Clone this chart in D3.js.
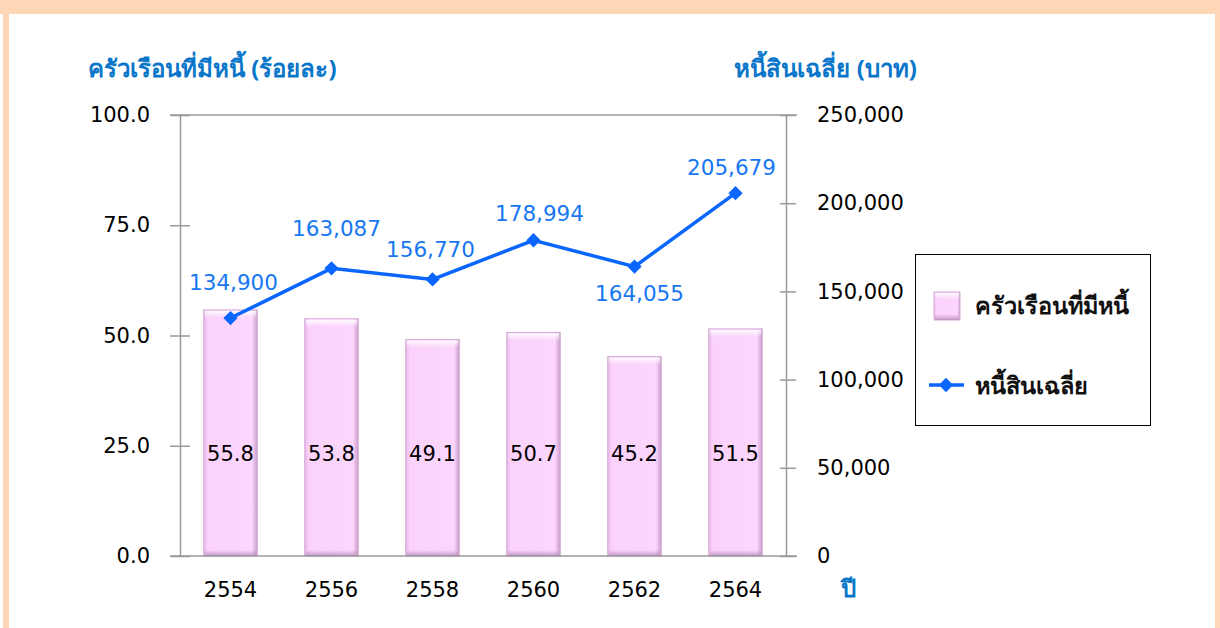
<!DOCTYPE html>
<meta charset="utf-8">
<script src="https://d3js.org/d3.v7.min.js"></script>
<style>
    body { margin: 0; background: #fff; }
    .num { font-family: "DejaVu Sans", Verdana, sans-serif; font-size: 21px; fill: #000; }
    .thai { font-family: Tahoma, "Leelawadee UI", "Noto Sans", "DejaVu Sans", sans-serif; }
    .axis_title { font-size: 24px; font-weight: bold; fill: #0a76c9; }
    .line_label { font-family: "DejaVu Sans", Verdana, sans-serif; font-size: 21.5px; fill: #1777f2; }
    .debt_line { fill: none; stroke: #0a66ff; stroke-width: 3.5; }
</style>
<div id="chart"></div>
<script>
// data
const years = ["2554", "2556", "2558", "2560", "2562", "2564"];
const householdPct = [55.8, 53.8, 49.1, 50.7, 45.2, 51.5];
const avgDebt = [134900, 163087, 156770, 178994, 164055, 205679];
const leftTicks = [0, 25, 50, 75, 100];
const rightTicks = [0, 50000, 100000, 150000, 200000, 250000];

const W = 1220, H = 628;
const plot = {left: 180, right: 786, top: 115, bottom: 556};

const svg = d3.select("#chart").append("svg")
    .attr("width", W).attr("height", H);

// peach frame
svg.append("rect").attr("x", 0).attr("y", 0).attr("width", W).attr("height", 14).attr("fill", "#fdd7b6");
svg.append("rect").attr("x", 3).attr("y", 0).attr("width", 6).attr("height", H).attr("fill", "#fdd7b6");
svg.append("rect").attr("x", 1215).attr("y", 0).attr("width", 5).attr("height", H).attr("fill", "#fdd7b6");

const x = d3.scaleBand().domain(years).range([plot.left, plot.right]).paddingInner(0.47).paddingOuter(0.235);
const xc = d => x(d) + x.bandwidth() / 2;
const yL = d3.scaleLinear().domain([0, 100]).range([plot.bottom, plot.top]);
const yR = d3.scaleLinear().domain([0, 250000]).range([plot.bottom, plot.top]);

// gradients for the bevelled bars
const defs = svg.append("defs");
const g1 = defs.append("linearGradient").attr("id", "barH").attr("x1", 0).attr("x2", 1).attr("y1", 0).attr("y2", 0);
g1.append("stop").attr("offset", "0%").attr("stop-color", "#e9b9ea");
g1.append("stop").attr("offset", "8%").attr("stop-color", "#fad2fb");
g1.append("stop").attr("offset", "90%").attr("stop-color", "#fcd6fd");
g1.append("stop").attr("offset", "100%").attr("stop-color", "#c99bcb");
const g2 = defs.append("linearGradient").attr("id", "barTop").attr("x1", 0).attr("x2", 0).attr("y1", 0).attr("y2", 1);
g2.append("stop").attr("offset", "0%").attr("stop-color", "#fff").attr("stop-opacity", 0.9);
g2.append("stop").attr("offset", "100%").attr("stop-color", "#fff").attr("stop-opacity", 0);
const g3 = defs.append("linearGradient").attr("id", "barBot").attr("x1", 0).attr("x2", 0).attr("y1", 0).attr("y2", 1);
g3.append("stop").attr("offset", "0%").attr("stop-color", "#b88ab9").attr("stop-opacity", 0);
g3.append("stop").attr("offset", "100%").attr("stop-color", "#b88ab9").attr("stop-opacity", 0.8);

// plot frame lines (top border + axes)
const axisCol = "#9a9a9a";
svg.append("line").attr("x1", 170).attr("x2", 797).attr("y1", plot.top).attr("y2", plot.top).attr("stroke", axisCol).attr("stroke-width", 1.5);

// left axis
const axL = svg.append("g").attr("transform", `translate(${plot.left},0)`)
    .call(d3.axisLeft(yL).tickValues(leftTicks).tickFormat(d3.format(".1f")).tickSizeInner(10).tickSizeOuter(0).tickPadding(20));
axL.select(".domain").attr("stroke", axisCol).attr("stroke-width", 1.5);
axL.selectAll(".tick line").attr("stroke", axisCol).attr("stroke-width", 1.5).attr("x2", 10).attr("x1", -10);
axL.selectAll(".tick text").attr("class", "num").attr("x", -30);

// right axis
const axR = svg.append("g").attr("transform", `translate(${plot.right},0)`)
    .call(d3.axisRight(yR).tickValues(rightTicks).tickFormat(d3.format(",")).tickSizeInner(10).tickSizeOuter(0));
axR.select(".domain").attr("stroke", axisCol).attr("stroke-width", 1.5);
axR.selectAll(".tick line").attr("stroke", axisCol).attr("stroke-width", 1.5).attr("x1", -6).attr("x2", 10);
axR.selectAll(".tick text").attr("class", "num").attr("x", 31).attr("text-anchor", "start");

// bars
const bars = svg.append("g").selectAll("g").data(years).join("g");
bars.append("rect")
    .attr("x", d => x(d)).attr("width", x.bandwidth())
    .attr("y", (d, i) => yL(householdPct[i])).attr("height", (d, i) => plot.bottom - yL(householdPct[i]))
    .attr("fill", "url(#barH)").attr("stroke", "#d6aad7").attr("stroke-width", 1);
bars.append("rect")
    .attr("x", d => x(d) + 1).attr("width", x.bandwidth() - 2)
    .attr("y", (d, i) => yL(householdPct[i]) + 1).attr("height", 7)
    .attr("fill", "url(#barTop)");
bars.append("rect")
    .attr("x", d => x(d) + 1).attr("width", x.bandwidth() - 2)
    .attr("y", plot.bottom - 6).attr("height", 6)
    .attr("fill", "url(#barBot)");
bars.append("text").attr("class", "num")
    .attr("x", d => xc(d)).attr("y", yL(21.5)).attr("text-anchor", "middle")
    .text((d, i) => householdPct[i].toFixed(1));

// bottom axis
const axB = svg.append("g").attr("transform", `translate(0,${plot.bottom})`)
    .call(d3.axisBottom(x).tickSize(0).tickPadding(26));
axB.select(".domain").attr("d", "M170,0H797").attr("stroke", axisCol).attr("stroke-width", 1.5);
axB.selectAll(".tick text").attr("class", "num");

// debt line
const line = d3.line().x((d, i) => xc(years[i])).y(d => yR(d));
svg.append("path").datum(avgDebt).attr("class", "debt_line").attr("d", line);
const diamond = d3.symbol().type(d3.symbolDiamond2).size(130);
svg.append("g").selectAll("path").data(avgDebt).join("path")
    .attr("d", diamond)
    .attr("transform", (d, i) => `translate(${xc(years[i])},${yR(d)})`)
    .attr("fill", "#0a66ff");

// label offsets from each point (dx, dy)
const labelOff = [[3, -28], [5, -32], [-2, -22], [6, -19], [5, 34], [-4, -18]];
svg.append("g").selectAll("text").data(avgDebt).join("text")
    .attr("class", "line_label").attr("text-anchor", "middle")
    .attr("x", (d, i) => xc(years[i]) + labelOff[i][0])
    .attr("y", (d, i) => yR(d) + labelOff[i][1])
    .text(d => d3.format(",")(d));

// axis titles
svg.append("text").attr("class", "thai axis_title").attr("x", 88).attr("y", 77).text("ครัวเรือนที่มีหนี้ (ร้อยละ)");
svg.append("text").attr("class", "thai axis_title").attr("x", 917).attr("y", 77).attr("text-anchor", "end").text("หนี้สินเฉลี่ย (บาท)");
svg.append("text").attr("class", "thai axis_title").attr("x", 841).attr("y", 597).text("ปี");

// legend
const lg = svg.append("g");
lg.append("rect").attr("x", 915.5).attr("y", 254.5).attr("width", 235).attr("height", 171)
    .attr("fill", "#fff").attr("stroke", "#000").attr("stroke-width", 1);
lg.append("rect").attr("x", 934).attr("y", 292).attr("width", 26).attr("height", 28)
    .attr("fill", "url(#barH)").attr("stroke", "#d6aad7");
lg.append("rect").attr("x", 935).attr("y", 293).attr("width", 24).attr("height", 6).attr("fill", "url(#barTop)");
lg.append("rect").attr("x", 935).attr("y", 314).attr("width", 24).attr("height", 6).attr("fill", "url(#barBot)");
lg.append("text").attr("class", "thai").attr("x", 975).attr("y", 314)
    .attr("font-size", 23.5).attr("font-weight", "bold").attr("fill", "#111").text("ครัวเรือนที่มีหนี้");
lg.append("line").attr("x1", 929).attr("x2", 964).attr("y1", 385).attr("y2", 385).attr("stroke", "#0a66ff").attr("stroke-width", 3.5);
lg.append("path").attr("d", diamond).attr("transform", "translate(946,385)").attr("fill", "#0a66ff");
lg.append("text").attr("class", "thai").attr("x", 975).attr("y", 394)
    .attr("font-size", 23.5).attr("font-weight", "bold").attr("fill", "#111").text("หนี้สินเฉลี่ย");
</script>
